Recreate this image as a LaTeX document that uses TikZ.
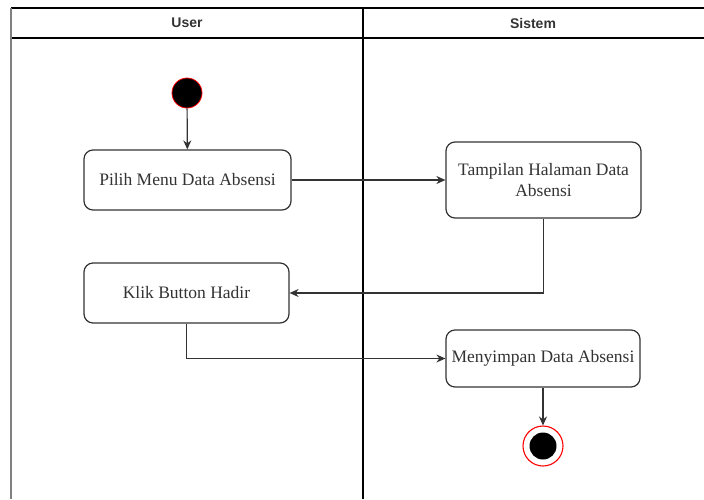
\documentclass[tikz,border=0pt]{standalone}
\usepackage{fontspec}
\setmainfont{Liberation Serif}
\setsansfont{Liberation Sans}
\usetikzlibrary{arrows.meta}

\definecolor{edgegray}{HTML}{333333}
\definecolor{lanegray}{HTML}{808080}

\tikzset{
  lane/.style={line width=1.6pt, draw=black},
  lanelight/.style={line width=1.6pt, draw=lanegray},
  lanehead/.style={font=\sffamily\bfseries\fontsize{14}{16}\selectfont, text=edgegray},
  action/.style={draw=edgegray, line width=1.2pt, rounded corners=9pt, fill=white,
    align=center, inner sep=2pt,
    font=\fontsize{17.5}{20.5}\selectfont, text=edgegray},
  flow/.style={draw=edgegray, line width=1.2pt, -{Stealth[length=9pt,width=8pt]}},
  startdot/.style={circle, fill=black, draw=red, line width=0.8pt, minimum size=30pt, inner sep=0pt},
  endring/.style={circle, fill=white, draw=red, line width=1.1pt, minimum size=40pt, inner sep=0pt},
  enddot/.style={circle, fill=black, minimum size=27pt, inner sep=0pt}
}

\begin{document}
\begin{tikzpicture}[x=1pt, y=-1pt]
  \useasboundingbox (0,0) rectangle (704,499);

  % swimlane frame
  \draw[lane] (11,8) -- (704,8);
  \draw[lane] (11,38) -- (704,38);
  \draw[lanelight] (11,8) -- (11,499);
  \draw[lane] (363,8) -- (363,499);
  \node[lanehead] (huser) at (187,23) {User};
  \node[lanehead] (hsys) at (533,23) {Sistem};

  % activities
  \node[startdot] (start) at (187,93) {};
  \node[action, minimum width=207pt, minimum height=60pt] (pilih) at (187.5,180) {Pilih Menu Data Absensi};
  \node[action, minimum width=195pt, minimum height=76pt] (tampil) at (543.5,180) {Tampilan Halaman Data\\Absensi};
  \node[action, minimum width=205pt, minimum height=60pt] (klik) at (186.5,293) {Klik Button Hadir};
  \node[action, minimum width=194pt, minimum height=57pt] (simpan) at (543,358.5) {Menyimpan Data Absensi};
  \node[endring] (stop) at (543,446) {};
  \node[enddot] (stopdot) at (stop.center) {};

  % control flow
  \draw[flow] (start) -- (pilih);
  \draw[flow] (pilih.east) -- (tampil.west);
  \draw[flow] (tampil.south) |- (klik.east);
  \draw[flow] (klik.south) |- (simpan.west);
  \draw[flow] (simpan.south) -- (stop.north);
\end{tikzpicture}
\end{document}
